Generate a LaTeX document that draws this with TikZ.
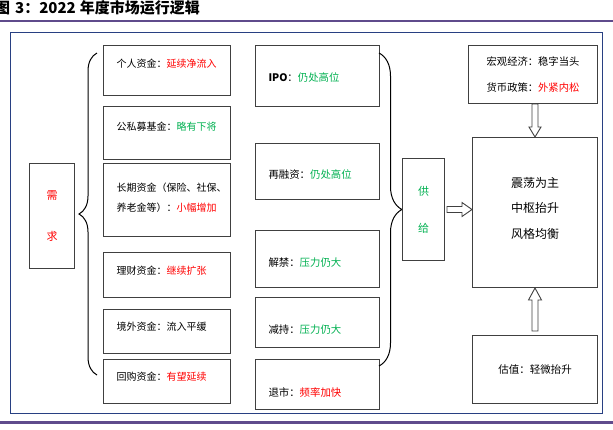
\documentclass[tikz,border=0pt]{standalone}
\usepackage{fontspec}
\setmainfont{Liberation Serif}
\newfontfamily\cjk{Noto Sans CJK SC}
\usetikzlibrary{calc,decorations.pathreplacing}

\definecolor{hongse}{RGB}{255,0,0}
\definecolor{lvse}{RGB}{0,176,80}
\definecolor{kuang}{RGB}{40,64,130}
\definecolor{zise}{RGB}{95,75,140}

\begin{document}
\begin{tikzpicture}[x=1pt,y=-1pt,font=\cjk\fontsize{10}{12}\selectfont,
                    line join=miter]
  \tikzstyle{box}=[draw=black!75,line width=1pt,anchor=north west,inner sep=0pt]
  \tikzstyle{zuo}=[box,minimum width=127pt,text width=101pt,align=left,text depth=10pt]
  \tikzstyle{zhong}=[box,minimum width=124pt,text width=98pt,align=left,
                     font=\cjk\fontsize{10.4}{12}\selectfont,text height=15pt]
  \tikzstyle{you}=[box,align=center]
  \tikzstyle{kuohao}=[draw,line width=1pt,decorate]
  \tikzstyle{hollow}=[draw=black!75,line width=0.9pt,fill=white]

  \useasboundingbox (0,0) rectangle (613,429);

  % title and rules
  \node[anchor=west,inner sep=0pt,font=\cjk\bfseries\fontsize{15}{15}\selectfont] (title) at (-5,8)
       {图\hspace{5pt}3：2022\hspace{4pt}年度市场运行逻辑};
  \draw[zise,line width=2.5pt] (0,21) -- (613,21);
  \draw[zise,line width=2.5pt] (0,422.5) -- (613,422.5);
  \draw[kuang,line width=1pt] (10,32) rectangle (602,413);

  % demand
  \node[you,minimum width=45pt,minimum height=105pt,text=hongse,
        font=\cjk\fontsize{11}{41}\selectfont] (xu) at (29,163) {需\\求};

  \node[zuo,minimum height=50pt,text depth=14pt] (l1) at (103,45)  {个人资金：\textcolor{hongse}{延续净流入}};
  \node[zuo,minimum height=53pt,text depth=14pt] (l2) at (103,106) {公私募基金：\textcolor{lvse}{略有下将}};
  \node[zuo,minimum height=73pt,font=\cjk\fontsize{10}{24}\selectfont,text depth=26pt] (l3) at (103,163)
       {长期资金（保险、社保、\\[-4pt]养老金等）：\textcolor{hongse}{小幅增加}};
  \node[zuo,minimum height=45pt] (l4) at (103,252) {理财资金：\textcolor{hongse}{继续扩张}};
  \node[zuo,minimum height=44pt] (l5) at (103,309) {境外资金：流入平缓};
  \node[zuo,minimum height=44pt] (l6) at (103,359) {回购资金：\textcolor{hongse}{有望延续}};

  \draw[kuohao,decoration={brace,amplitude=18pt}] (97,375) -- (97,53);

  % supply
  \node[zhong,minimum height=61pt,text height=11pt] (m1) at (255,45)
       {\textbf{IPO}：\textcolor{lvse}{仍处高位}};
  \node[zhong,minimum height=56pt] (m2) at (255,143) {再融资：\textcolor{lvse}{仍处高位}};
  \node[zhong,minimum height=57pt] (m3) at (255,230) {解禁：\textcolor{lvse}{压力仍大}};
  \node[zhong,minimum height=50pt,text height=22pt] (m4) at (255,297) {减持：\textcolor{lvse}{压力仍大}};
  \node[zhong,minimum height=50pt,text height=24pt] (m5) at (255,359) {退市：\textcolor{hongse}{频率加快}};

  \draw[kuohao,decoration={brace,amplitude=23pt}] (379,53) -- (379,366);

  \node[you,minimum width=42pt,minimum height=102pt,text=lvse,
        font=\cjk\fontsize{11}{37}\selectfont] (gong) at (402,158) {供\\给};

  % right column
  \node[you,minimum width=129pt,minimum height=58pt,
        font=\cjk\fontsize{10.3}{26}\selectfont] (hong) at (468,45)
       {宏观经济：稳字当头\\货币政策：\textcolor{hongse}{外紧内松}};
  \node[you,minimum width=125pt,minimum height=150pt,
        font=\cjk\fontsize{12}{25.5}\selectfont,text depth=10pt] (core) at (472,137)
       {震荡为主\\中枢抬升\\风格均衡};
  \node[you,minimum width=125pt,minimum height=68pt,
        font=\cjk\fontsize{10.5}{12}\selectfont] (gu) at (472,335) {估值：轻微抬升};

  % hollow arrows
  \coordinate (ha) at (core.west |- gong.east);
  \draw[hollow] ($(gong.east)+(2,-3)$) -- ($(ha)+(-10,-3)$) -- ($(ha)+(-10,-7)$) -- (ha)
        -- ($(ha)+(-10,7)$) -- ($(ha)+(-10,3)$) -- ($(gong.east)+(2,3)$) -- cycle;
  \draw[hollow] ($(hong.south -| core.north)+(-3,0)$) -- ($(core.north)+(-3,-10)$)
        -- ($(core.north)+(-6,-10)$) -- (core.north) -- ($(core.north)+(6,-10)$)
        -- ($(core.north)+(3,-10)$) -- ($(hong.south -| core.north)+(3,0)$) -- cycle;
  \draw[hollow] ($(gu.north)+(-3,-4)$) -- ($(core.south)+(-3,12)$)
        -- ($(core.south)+(-6.5,12)$) -- (core.south) -- ($(core.south)+(6.5,12)$)
        -- ($(core.south)+(3,12)$) -- ($(gu.north)+(3,-4)$) -- cycle;
\end{tikzpicture}
\end{document}
